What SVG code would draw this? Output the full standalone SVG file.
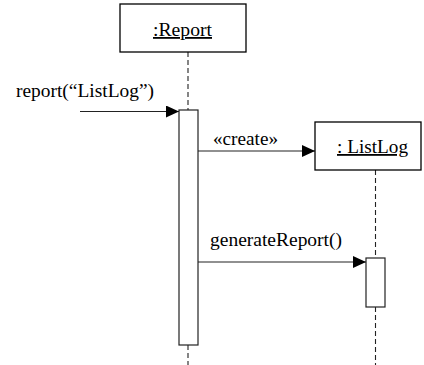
<svg xmlns="http://www.w3.org/2000/svg" width="424" height="365" viewBox="0 0 424 365">
<style>
.box{fill:#fff;stroke:#000;stroke-width:1.3}
.act{fill:#fff;stroke:#222;stroke-width:1.2}
.life{stroke:#222;stroke-width:1.1;stroke-dasharray:5 3;fill:none}
.msg{stroke:#222;stroke-width:1.2;fill:none}
text{font-family:"Liberation Serif","Times New Roman",serif;font-size:18px;fill:#000}
.u{text-decoration:underline}
</style>
<defs>
<marker id="arr" markerWidth="13" markerHeight="12" refX="13" refY="6" orient="auto" markerUnits="userSpaceOnUse">
<path d="M0,0 L13,6 L0,12 Z" fill="#000"/>
</marker>
</defs>
<rect width="424" height="365" fill="#fff"/>
<g id="connectors">
<line class="life" x1="188" y1="52" x2="188" y2="110"/>
<line class="life" x1="188" y1="345" x2="188" y2="365"/>
<line class="life" x1="375.5" y1="170" x2="375.5" y2="258"/>
<line class="life" x1="375.5" y1="307" x2="375.5" y2="365"/>
<line class="msg" x1="80" y1="111.5" x2="179" y2="111.5" marker-end="url(#arr)"/>
<text x="16" y="97" textLength="138" lengthAdjust="spacingAndGlyphs">report(“ListLog”)</text>
<line class="msg" x1="198" y1="151" x2="315" y2="151" marker-end="url(#arr)"/>
<text x="213" y="145" textLength="65" lengthAdjust="spacingAndGlyphs">«create»</text>
<line class="msg" x1="198" y1="262" x2="366" y2="262" marker-end="url(#arr)"/>
<text x="210" y="246" textLength="132" lengthAdjust="spacingAndGlyphs">generateReport()</text>
</g>
<g id="report">
<rect class="box" x="120" y="4" width="126" height="48"/>
<text class="u" x="153" y="36" textLength="59" lengthAdjust="spacingAndGlyphs">:Report</text>
</g>
<g id="report-activation">
<rect class="act" x="179" y="110" width="19" height="235"/>
</g>
<g id="listlog">
<rect class="box" x="315" y="122" width="106" height="48"/>
<text class="u" x="337" y="153" textLength="71" lengthAdjust="spacingAndGlyphs">: ListLog</text>
</g>
<g id="listlog-activation">
<rect class="act" x="366" y="258" width="19" height="49"/>
</g>
</svg>
